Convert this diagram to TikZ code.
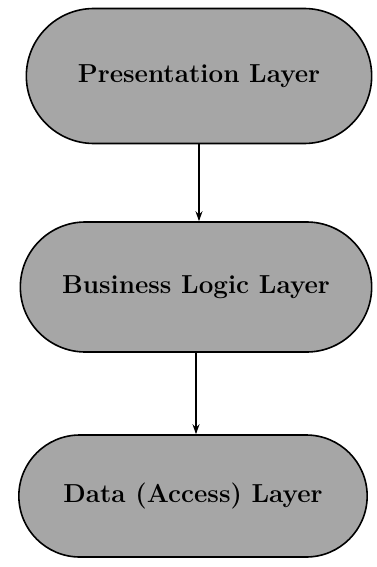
\documentclass[tikz,border=0pt]{standalone}
\usepackage{fontspec}
\usetikzlibrary{shapes.misc,arrows.meta}

\tikzset{
	layer/.style = {rounded rectangle, draw = black, line width = 1.6pt, fill = gray!70,
		minimum width = 352pt, minimum height = 130pt,
		font = \fontsize{26}{31}\selectfont\bfseries},
	flow/.style = {line width = 1.3pt, -{Stealth[length = 10pt, width = 7pt]}}
}

\begin{document}
\begin{tikzpicture}[x = 1pt, y = -1pt]
	\useasboundingbox (0,0) rectangle (376,567);
	\node [layer, minimum height = 135pt] (pres) at (199,76) {Presentation Layer};
	\node [layer, minimum width = 358pt] (busi) at (196,287) {Business Logic Layer};
	\node [layer, minimum width = 355pt, minimum height = 122pt] (data) at (193,496) {Data (Access) Layer};
	\draw [flow] (pres.south) -- (pres.south |- busi.north);
	\draw [flow] (busi.south) -- (busi.south |- data.north);
\end{tikzpicture}
\end{document}
